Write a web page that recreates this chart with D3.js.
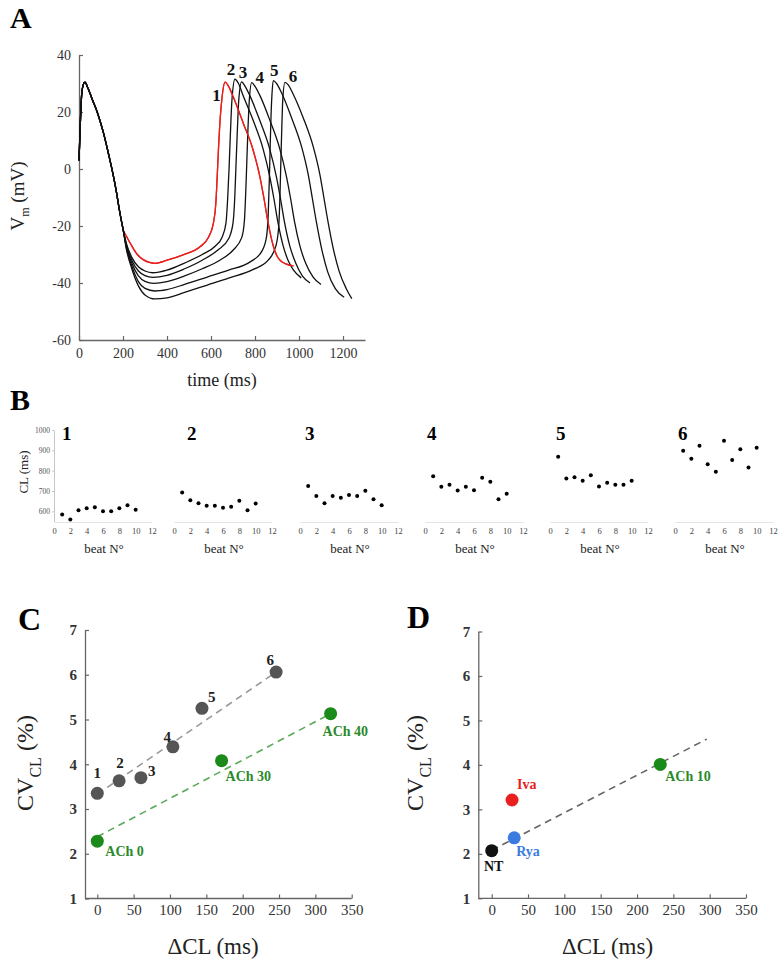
<!DOCTYPE html>
<html><head><meta charset="utf-8">
<script src="https://cdn.jsdelivr.net/npm/d3@7"></script>
<style>body{margin:0;background:#fff}svg{display:block}text{font-family:"Liberation Serif","Times New Roman",serif}</style>
</head><body><svg id="c" width="784" height="962"></svg>
<script>
// ---------------- DATA ----------------
// Panel A: membrane potential traces [time ms, Vm mV]
const apStart = [[0,3],[6,16],[12,26],[19,29.5],[27,30.5],[40,28.5],[60,24.5],[85,19.5],[110,13],[135,5],[155,-2],[170,-8],[185,-15],[200,-21]];
const trace1 = [[215,-23.5],[240,-27],[265,-30],[292,-31.8],[320,-32.8],[345,-33.1],[400,-32],[470,-30.2],[550,-27.3],[588,-24],[611,-19],[622,-12],[628,-3],[634,7],[642,18],[650,25],[664,30.5],[680,29],[700,25.5],[747,16],[792,6.5],[823,-3],[840,-10],[860,-19],[883,-27],[900,-30.5],[914,-32],[940,-33.3],[975,-34]];
const trace2 = [[215,-26],[240,-31],[270,-34.3],[300,-35.8],[335,-36.4],[400,-35.5],[480,-33],[560,-30],[620,-27],[650,-24],[668,-19],[676,-10],[682,0],[688,12],[695,24],[709,31.5],[725,30],[745,26],[792,17],[837,7],[868,-3],[885,-10],[905,-19],[928,-27],[950,-32],[975,-35.5],[1010,-38.2]];
const trace3 = [[215,-26.5],[240,-32],[270,-35.8],[300,-37.4],[335,-38],[400,-37.3],[480,-35],[560,-32],[630,-28.5],[680,-24.5],[700,-19],[708,-10],[713,0],[719,12],[726,24],[739,30.6],[755,29],[775,26],[822,17],[867,7],[898,-3],[915,-10],[935,-19],[958,-27],[985,-33],[1015,-37.5],[1050,-40]];
const trace4 = [[215,-27],[240,-33],[270,-37.5],[300,-39.4],[340,-40.1],[400,-39.5],[480,-37.5],[560,-35],[640,-32],[700,-28.5],[740,-24],[752,-18],[758,-8],[763,3],[768,14],[774,24],[785,30.3],[800,29],[821,26],[868,17],[913,7],[944,-3],[961,-10],[981,-19],[1004,-27],[1030,-33],[1065,-38],[1100,-40.5]];
const trace5 = [[215,-27.5],[240,-34],[270,-39.5],[300,-41.9],[345,-42.8],[400,-42.3],[480,-40.5],[580,-38],[680,-35.5],[780,-32.5],[830,-29],[852,-24],[860,-16],[865,-4],[869,8],[873,19],[877,26],[883,31],[898,30],[919,27],[966,18],[1011,8],[1042,-2],[1060,-10],[1080,-19],[1103,-28],[1130,-36],[1165,-42],[1205,-45]];
const trace6 = [[215,-28],[240,-35],[270,-41],[300,-44.2],[345,-45.6],[400,-45.2],[480,-43.3],[580,-40.8],[680,-38.3],[790,-35.3],[860,-32],[895,-27],[908,-20],[914,-8],[918,4],[922,15],[926,24],[936,30.4],[951,29.5],[972,26.5],[1019,18],[1064,8],[1095,-2],[1113,-10],[1133,-19],[1156,-28],[1183,-36],[1215,-42],[1240,-45.5]];
const traceLabels = ["1","2","3","4","5","6"];
const timeTicks = [0,200,400,600,800,1000,1200];
const vmTicks = [-60,-40,-20,0,20,40];

// Panel B: cycle length per beat
const beatNumbers = [1,2,3,4,5,6,7,8,9,10];
const cl1 = [585,560,605,615,620,600,600,615,630,608];
const cl2 = [693,655,640,628,628,618,622,652,605,638];
const cl3 = [724,675,640,675,667,680,675,701,660,630];
const cl4 = [773,721,731,703,721,704,765,745,660,686];
const cl5 = [868,762,768,750,778,722,740,731,731,750];
const cl6 = [898,859,923,831,795,947,852,905,816,913];
const beatTicks = [0,2,4,6,8,10,12];
const clTicks = [600,700,800,900,1000];

// Panel C
const cLabels = ["1","2","3","4","5","6"];
const cDeltaCL = [0,30,60,104,144,246];
const cCV = [3.35,3.63,3.70,4.39,5.25,6.06];
const cFitX = [0,246];
const cFitY = [3.33,6.06];
const achLabels = ["ACh 0","ACh 30","ACh 40"];
const achDeltaCL = [0,171,321];
const achCV = [2.28,4.08,5.13];
const achFitX = [0,321];
const achFitY = [2.38,5.13];

// Panel D
const dLabels = ["NT","Iva","Rya","ACh 10"];
const dDeltaCL = [0,28,31,232];
const dCV = [2.07,3.21,2.36,4.01];
const dFitX = [0,296];
const dFitY = [2.08,4.58];
const dclTicks = [0,50,100,150,200,250,300,350];
const cvTicks = [1,2,3,4,5,6,7];

// ---------------- DRAWING ----------------
const svg = d3.select("#c");
const AX = "#666", TX = "#333";
const plain = d => String(d);
function styleAxis(g, size){
  g.select(".domain").attr("stroke",AX).attr("stroke-width",1.3);
  g.selectAll(".tick line").attr("stroke",AX).attr("stroke-width",1.2);
  g.selectAll(".tick text").attr("fill",TX).attr("font-size",size)
    .attr("font-family",'"Liberation Serif","Times New Roman",serif');
}
function panelLetter(t,x,y,s){
  svg.append("text").attr("x",x).attr("y",y).attr("font-size",s).attr("font-weight","bold").attr("fill","#000").text(t);
}

// ---- Panel A ----
panelLetter("A",10,28,30);
const ax = d3.scaleLinear().domain([0,1300]).range([79,365]);
const ay = d3.scaleLinear().domain([-60,40]).range([340,55]);
const gA = svg.append("g");
styleAxis(gA.append("g").attr("transform","translate(0,340)")
  .call(d3.axisBottom(ax).tickValues(timeTicks).tickSizeInner(-4).tickSizeOuter(0).tickPadding(8).tickFormat(plain)),14);
styleAxis(gA.append("g").attr("transform","translate(79,0)")
  .call(d3.axisLeft(ay).tickValues(vmTicks).tickSizeInner(-4).tickSizeOuter(0).tickPadding(8).tickFormat(plain)),14);
const traces = [trace1,trace2,trace3,trace4,trace5,trace6];
const line = d3.line().x(d=>ax(d[0])).y(d=>ay(d[1])).curve(d3.curveMonotoneX);
traces.forEach((tr,i)=>{
  gA.append("path").attr("d",line(apStart.concat(tr))).attr("fill","none")
    .attr("stroke", i===0 ? "#e8201c" : "#111").attr("stroke-width",1.3);
});
gA.append("path").attr("d",line(trace1)).attr("fill","none").attr("stroke","#e8201c").attr("stroke-width",1.3);
const labOff = [[-8.5,19],[-4,-4],[1.5,-4],[8,0.5],[1,-5],[8,0]];
traces.forEach((tr,i)=>{
  const pk = tr.reduce((a,b)=> b[1]>a[1]?b:a);
  gA.append("text").attr("x",ax(pk[0])+labOff[i][0]).attr("y",ay(pk[1])+labOff[i][1])
    .attr("text-anchor","middle").attr("font-size",17).attr("font-weight","bold").attr("fill","#111").text(traceLabels[i]);
});
const vl = gA.append("text").attr("transform","translate(24,196) rotate(-90)").attr("text-anchor","middle").attr("font-size",19).attr("fill","#222");
vl.append("tspan").text("V");
vl.append("tspan").attr("font-size",12).attr("dy",5).text("m");
vl.append("tspan").attr("dy",-5).text(" (mV)");
gA.append("text").attr("x",222).attr("y",386).attr("text-anchor","middle").attr("font-size",18).attr("fill","#222").text("time (ms)");

// ---- Panel B ----
panelLetter("B",10,410,30);
const bX0 = [54,174,300,425,550,675];
const bNumX = [62,187,305,427,556,678];
const clSeries = [cl1,cl2,cl3,cl4,cl5,cl6];
const by = d3.scaleLinear().domain([550,1000]).range([521.5,430]);
clSeries.forEach((s,k)=>{
  const x0 = bX0[k];
  const bx = d3.scaleLinear().domain([0,12]).range([x0,x0+98]);
  const g = svg.append("g");
  const xa = g.append("g").attr("transform","translate(0,522)")
    .call(d3.axisBottom(bx).tickValues(beatTicks).tickSize(0).tickPadding(6).tickFormat(plain));
  xa.select(".domain").attr("stroke","#e4e4e4");
  xa.selectAll(".tick text").attr("fill","#444").attr("font-size",8.5).attr("font-family",'"Liberation Serif",serif');
  if(k===0){
    const ya = g.append("g").attr("transform",`translate(${x0},0)`)
      .call(d3.axisLeft(by).tickValues(clTicks).tickSizeInner(2).tickSizeOuter(0).tickPadding(2).tickFormat(plain));
    ya.select(".domain").attr("stroke","#c8c8c8");
    ya.selectAll(".tick line").attr("stroke","#c8c8c8");
    ya.selectAll(".tick text").attr("fill","#555").attr("font-size",7.5).attr("font-family",'"Liberation Serif",serif');
    g.append("text").attr("transform","translate(28,472) rotate(-90)").attr("text-anchor","middle")
      .attr("font-size",13).attr("fill","#222").text("CL (ms)");
  }
  g.selectAll("circle").data(s).join("circle")
    .attr("cx",(d,i)=>bx(beatNumbers[i])).attr("cy",d=>by(d)).attr("r",2).attr("fill","#000");
  g.append("text").attr("x",bNumX[k]).attr("y",440).attr("font-size",19).attr("font-weight","bold").attr("fill","#000").text(traceLabels[k]);
  g.append("text").attr("x",x0+50).attr("y",553).attr("text-anchor","middle").attr("font-size",13).attr("fill","#222").text("beat N°");
});

// ---- Panels C & D ----
function cvPanel(xAxisX, x0, x350, yTop, yBot, labelX, xTitleX){
  const x = d3.scaleLinear().domain([0,350]).range([x0,x350]);
  const y = d3.scaleLinear().domain([1,7]).range([yBot,yTop]);
  const g = svg.append("g");
  const xa = g.append("g").attr("transform",`translate(0,${yBot})`)
    .call(d3.axisBottom(x).tickValues(dclTicks).tickSizeInner(-4).tickSizeOuter(0).tickPadding(6).tickFormat(plain));
  xa.select(".domain").attr("d",`M${xAxisX},0H${x350}`);
  styleAxis(xa,15);
  const ya = g.append("g").attr("transform",`translate(${xAxisX},0)`)
    .call(d3.axisLeft(y).tickValues(cvTicks).tickSizeInner(-4).tickSizeOuter(0).tickPadding(8).tickFormat(plain));
  styleAxis(ya,15);
  ya.selectAll(".tick text").attr("font-weight","bold").attr("fill","#333");
  const t = g.append("text").attr("transform",`translate(${labelX},763) rotate(-90)`).attr("text-anchor","middle").attr("font-size",24).attr("fill","#222");
  t.append("tspan").text("CV");
  t.append("tspan").attr("font-size",16).attr("dy",8).text("CL");
  t.append("tspan").attr("dy",-8).text(" (%)");
  g.append("text").attr("x",xTitleX).attr("y",954).attr("text-anchor","middle").attr("font-size",23).attr("fill","#222").text("ΔCL (ms)");
  return {x,y,g};
}
const fitLine = (p,fx,fy,col)=> p.g.append("line").attr("x1",p.x(fx[0])).attr("y1",p.y(fy[0])).attr("x2",p.x(fx[1])).attr("y2",p.y(fy[1]))
  .attr("stroke",col).attr("stroke-width",1.6).attr("stroke-dasharray","7,5");
const GREEN = "#1b8a1b";

panelLetter("C",18,630,32);
const C = cvPanel(85, 97.3, 351.7, 630, 898.5, 33, 213);
fitLine(C,cFitX,cFitY,"#999");
fitLine(C,achFitX,achFitY,"#5aa85a");
C.g.selectAll("circle.g").data(cCV).join("circle").attr("class","g")
  .attr("cx",(d,i)=>C.x(cDeltaCL[i])).attr("cy",d=>C.y(d)).attr("r",6.5).attr("fill","#555");
C.g.selectAll("circle.a").data(achCV).join("circle").attr("class","a")
  .attr("cx",(d,i)=>C.x(achDeltaCL[i])).attr("cy",d=>C.y(d)).attr("r",6.5).attr("fill",GREEN);
const cOff = [[0,-15,"middle"],[1,-13,"middle"],[7,-2,"start"],[-2,-5,"end"],[6,-6,"start"],[-2,-7,"end"]];
cLabels.forEach((l,i)=>{
  C.g.append("text").attr("x",C.x(cDeltaCL[i])+cOff[i][0]).attr("y",C.y(cCV[i])+cOff[i][1]).attr("text-anchor",cOff[i][2])
    .attr("font-size",15).attr("font-weight","bold").attr("fill","#222").text(l);
});
const aOff = [[8,15],[4,20],[-8,22]];
achLabels.forEach((l,i)=>{
  C.g.append("text").attr("x",C.x(achDeltaCL[i])+aOff[i][0]).attr("y",C.y(achCV[i])+aOff[i][1])
    .attr("font-size",14).attr("font-weight","bold").attr("fill","#2a8a2a").text(l);
});

panelLetter("D",407,628,32);
const D = cvPanel(478.3, 491.7, 746, 631.5, 898.3, 423, 607.5);
fitLine(D,dFitX,dFitY,"#666");
const dCol = ["#111","#e82020","#3b7be0",GREEN];
const dTxtCol = ["#111","#e82020","#3b7be0","#2a8a2a"];
D.g.selectAll("circle.d").data(dCV).join("circle").attr("class","d")
  .attr("cx",(d,i)=>D.x(dDeltaCL[i])).attr("cy",d=>D.y(d)).attr("r",6.5).attr("fill",(d,i)=>dCol[i]);
const dOff = [[2,20,"middle"],[5,-11,"start"],[2,18,"start"],[5,17,"start"]];
dLabels.forEach((l,i)=>{
  D.g.append("text").attr("x",D.x(dDeltaCL[i])+dOff[i][0]).attr("y",D.y(dCV[i])+dOff[i][1]).attr("text-anchor",dOff[i][2])
    .attr("font-size",14).attr("font-weight","bold").attr("fill",dTxtCol[i]).text(l);
});
</script></body></html>
